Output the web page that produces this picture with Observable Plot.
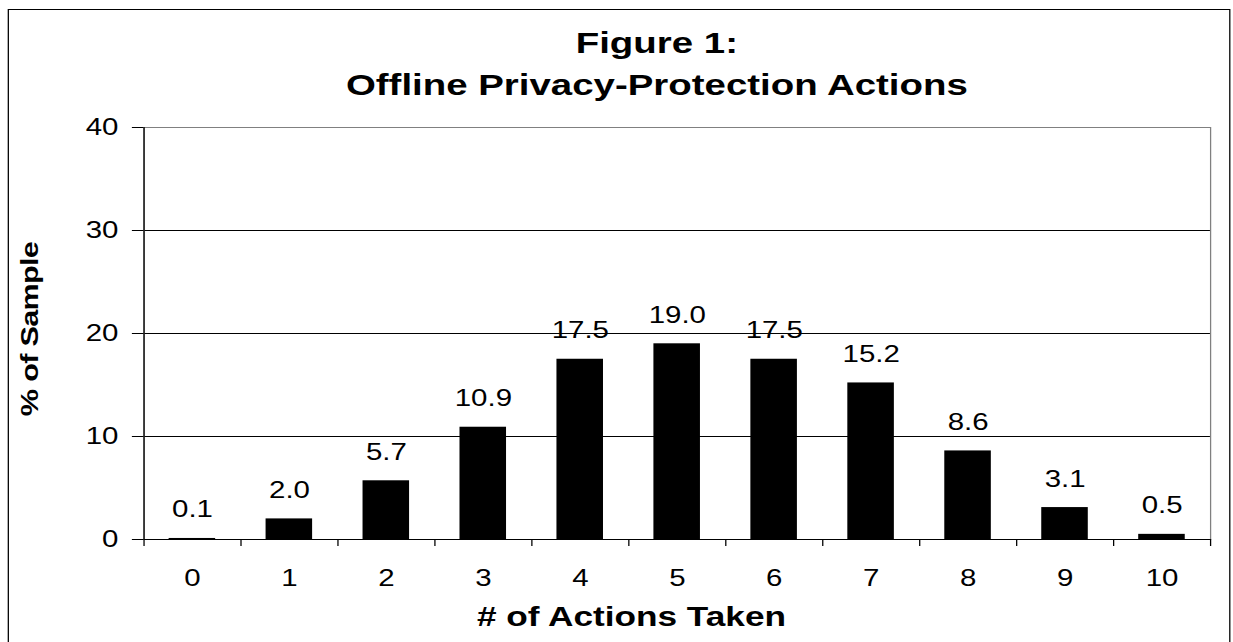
<!DOCTYPE html>
<html>
<head>
<meta charset="utf-8">
<script src="https://cdn.jsdelivr.net/npm/d3@7"></script>
<script src="https://cdn.jsdelivr.net/npm/@observablehq/plot@0.6"></script>
<style>
html, body { margin: 0; padding: 0; background: #fff; overflow: hidden; }
#stage { position: relative; width: 963px; height: 642px; transform-origin: 0 0;
  font-family: "Liberation Sans", Arial, sans-serif; color: #000; }
#frame { position: absolute; left: 6px; top: 9px; width: 955px; height: 700px;
  border: 1px solid #000; box-sizing: border-box; }
#chart { position: absolute; left: 0; top: 0; }
.t { position: absolute; white-space: nowrap; font-weight: bold; text-align: center; line-height: 1; }
#title1, #title2 { font-size: 30px; left: 213px; width: 600px; }
#title1 { top: 27.6px; }
#title2 { top: 70.1px; }
#xtitle { font-size: 27.5px; left: 193.2px; width: 600px; top: 602.7px; }
#ytitle { font-size: 18px; left: 14.6px; top: 329px; text-align: left; transform-origin: 0 0; letter-spacing: -0.4px; }
</style>
</head>
<body>
<div id="stage">
  <div id="frame"></div>
  <div id="chart"></div>
  <div class="t" id="title1">Figure 1:</div>
  <div class="t" id="title2">Offline Privacy-Protection Actions</div>
  <div class="t" id="xtitle"># of Actions Taken</div>
  <div class="t" id="ytitle">% of Sample</div>
</div>
<script>
// ---- data ----
const actions = [0, 1, 2, 3, 4, 5, 6, 7, 8, 9, 10];
const pct = [0.1, 2.0, 5.7, 10.9, 17.5, 19.0, 17.5, 15.2, 8.6, 3.1, 0.5];
const xTickLabels = ["0", "1", "2", "3", "4", "5", "6", "7", "8", "9", "10"];
const xBoundaries = [-0.5, 0.5, 1.5, 2.5, 3.5, 4.5, 5.5, 6.5, 7.5, 8.5, 9.5, 10.5];
const yTicks = [0, 10, 20, 30, 40];
const yGrid = [10, 20, 30];

const data = actions.map((k, i) => ({ k, v: pct[i], label: pct[i].toFixed(1) }));
const half = 0.24;

const chart = Plot.plot({
  width: 963,
  height: 642,
  marginLeft: 112,
  marginRight: 18,
  marginTop: 127,
  marginBottom: 103,
  style: {
    background: "none",
    fontFamily: "'Liberation Sans', Arial, sans-serif",
    fontSize: "23px",
    color: "#000",
    overflow: "visible"
  },
  x: { domain: [-0.5, 10.5], label: null },
  y: { domain: [0, 40], label: null },
  marks: [
    Plot.gridY(yGrid, { stroke: "#000", strokeOpacity: 1 }),
    Plot.frame({ stroke: "#808080" }),
    Plot.rectY(data, { x1: d => d.k - half, x2: d => d.k + half, y: "v", fill: "#000" }),
    Plot.ruleY([0], { stroke: "#000" }),
    Plot.ruleX([-0.5], { stroke: "#000" }),
    Plot.axisY({ ticks: yTicks, tickSize: 9, tickPadding: 11, label: null, stroke: "#000" }),
    Plot.axisX({ ticks: xBoundaries, tickSize: 7, tickFormat: () => "", label: null, stroke: "#000" }),
    Plot.axisX({ ticks: actions, tickSize: 0, tickPadding: 30, tickFormat: d => xTickLabels[d], label: null }),
    Plot.text(data, { x: "k", y: "v", text: "label", lineAnchor: "bottom", dy: -21, fontSize: 23, fill: "#000" })
  ]
});
document.getElementById("chart").appendChild(chart);

// horizontal stretch of the reference image
document.getElementById("stage").style.transform = `scaleX(${1233 / 963})`;

// y title: rotated, elongated along its length
const yt = document.getElementById("ytitle");
const k = 175 / yt.offsetWidth;
yt.style.transform = `rotate(-90deg) scaleX(${k}) translateX(-50%)`;
</script>
</body>
</html>
